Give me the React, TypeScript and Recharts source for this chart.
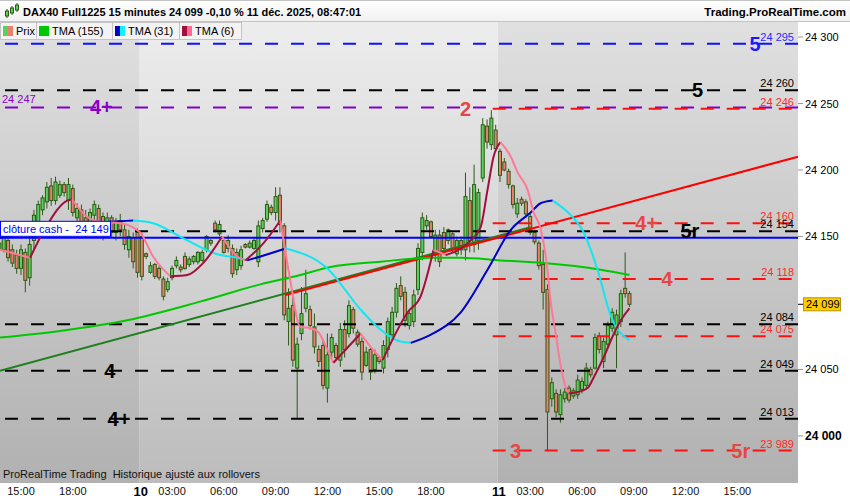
import React from "react";
import {
  ComposedChart,
  Bar,
  Line,
  XAxis,
  YAxis,
  ReferenceLine,
  ReferenceArea,
  ReferenceDot,
} from "recharts";

const FONT = "'Liberation Sans', Arial, sans-serif";

// bar index: 0 = 9 déc. 15:00, one step = 15 minutes (session 01:15 - 22:00)
// candles: [open, high, low, close]
const dec9Start = -5;
const dec9Bars = [
  [24140, 24147, 24136, 24145], [24140, 24153, 24138, 24150], [24147, 24151, 24131, 24134],
  [24140, 24144, 24127, 24130], [24136, 24140, 24122, 24126], [24126, 24144, 24121, 24140],
  [24138, 24141, 24108, 24117], [24119, 24150, 24113, 24144], [24147, 24170, 24140, 24166],
  [24161, 24177, 24153, 24174], [24170, 24181, 24166, 24179], [24176, 24191, 24171, 24187],
  [24188, 24194, 24173, 24177], [24177, 24195, 24174, 24191], [24181, 24192, 24179, 24189],
  [24189, 24191, 24180, 24183], [24177, 24194, 24170, 24189], [24186, 24189, 24165, 24168],
  [24164, 24175, 24159, 24171], [24170, 24174, 24155, 24158], [24164, 24170, 24149, 24153],
  [24158, 24171, 24155, 24168], [24166, 24177, 24161, 24174], [24171, 24174, 24156, 24161],
  [24165, 24168, 24147, 24151], [24155, 24168, 24150, 24164], [24164, 24166, 24149, 24153],
  [24153, 24164, 24147, 24161], [24162, 24167, 24150, 24155], [24155, 24159, 24140, 24144],
  [24140, 24155, 24134, 24150], [24149, 24153, 24126, 24131], [24153, 24156, 24119, 24123],
];

const dec10Start = 28;
const dec10Bars = [
  [24150, 24153, 24117, 24120], [24137, 24138, 24133, 24135], [24123, 24131, 24122, 24128],
  [24129, 24130, 24118, 24120], [24126, 24128, 24117, 24119], [24118, 24120, 24102, 24105],
  [24110, 24119, 24108, 24116], [24119, 24128, 24117, 24126], [24128, 24135, 24126, 24132],
  [24127, 24129, 24123, 24125], [24135, 24138, 24125, 24126], [24129, 24135, 24127, 24133],
  [24131, 24136, 24129, 24135], [24131, 24139, 24129, 24138], [24132, 24140, 24131, 24138],
  [24140, 24151, 24138, 24150], [24147, 24148, 24143, 24145], [24160, 24162, 24153, 24155],
  [24152, 24162, 24150, 24159], [24147, 24149, 24137, 24138], [24141, 24151, 24138, 24147],
  [24141, 24144, 24119, 24122], [24125, 24141, 24121, 24138], [24128, 24143, 24125, 24140],
  [24144, 24145, 24141, 24142], [24142, 24147, 24141, 24145], [24141, 24149, 24140, 24147],
  [24131, 24162, 24127, 24158], [24156, 24164, 24153, 24162], [24163, 24177, 24161, 24174],
  [24172, 24174, 24166, 24168], [24168, 24187, 24162, 24180], [24181, 24187, 24153, 24159],
  [24158, 24160, 24087, 24091], [24086, 24111, 24068, 24096], [24098, 24106, 24052, 24057],
  [24051, 24074, 24013, 24069], [24077, 24112, 24072, 24092], [24096, 24125, 24093, 24107],
  [24095, 24098, 24080, 24083], [24082, 24092, 24062, 24067], [24065, 24068, 24052, 24056],
  [24068, 24072, 24035, 24038], [24036, 24077, 24025, 24061], [24063, 24077, 24059, 24074],
  [24068, 24070, 24057, 24059], [24057, 24085, 24052, 24080], [24080, 24087, 24059, 24065],
  [24077, 24102, 24074, 24098], [24095, 24097, 24077, 24081], [24078, 24080, 24067, 24069],
  [24071, 24074, 24042, 24048], [24053, 24067, 24052, 24063], [24065, 24067, 24042, 24048],
  [24050, 24065, 24047, 24061], [24059, 24060, 24054, 24056], [24051, 24072, 24047, 24068],
  [24065, 24089, 24059, 24086], [24076, 24097, 24072, 24093], [24093, 24115, 24089, 24111],
  [24113, 24120, 24102, 24105], [24108, 24112, 24082, 24087], [24083, 24095, 24080, 24092],
  [24086, 24110, 24082, 24106], [24110, 24145, 24106, 24141], [24138, 24168, 24132, 24164],
  [24158, 24166, 24155, 24162], [24161, 24162, 24149, 24150], [24136, 24155, 24131, 24151],
  [24151, 24155, 24127, 24131], [24153, 24157, 24138, 24141], [24147, 24156, 24144, 24155],
  [24152, 24153, 24138, 24141], [24137, 24150, 24135, 24147], [24147, 24150, 24136, 24140],
  [24140, 24198, 24132, 24180], [24177, 24187, 24138, 24147], [24144, 24204, 24138, 24189],
  [24147, 24186, 24140, 24183], [24194, 24239, 24191, 24234], [24233, 24238, 24216, 24221],
  [24219, 24245, 24215, 24239], [24230, 24234, 24214, 24216],
];

const dec11Start = 111;
const dec11Bars = [
  [24214, 24216, 24191, 24196], [24206, 24209, 24199, 24200], [24199, 24201, 24186, 24189],
  [24188, 24189, 24171, 24174], [24167, 24179, 24164, 24175], [24178, 24180, 24173, 24175],
  [24176, 24178, 24164, 24167], [24165, 24167, 24151, 24153], [24153, 24155, 24144, 24146],
  [24145, 24147, 24125, 24128], [24129, 24140, 24095, 24108], [24110, 24114, 23989, 24018],
  [24028, 24044, 24022, 24040], [24032, 24035, 24014, 24018], [24016, 24035, 24010, 24031],
  [24028, 24036, 24025, 24033], [24036, 24038, 24025, 24027], [24030, 24036, 24028, 24034],
  [24031, 24046, 24028, 24042], [24035, 24044, 24032, 24041], [24038, 24055, 24035, 24051],
  [24050, 24052, 24044, 24046], [24051, 24077, 24050, 24074], [24075, 24078, 24062, 24065],
  [24056, 24074, 24051, 24071], [24069, 24086, 24067, 24083], [24081, 24096, 24078, 24093],
  [24076, 24095, 24051, 24091], [24086, 24110, 24082, 24107], [24111, 24138, 24104, 24107],
  [24107, 24109, 24097, 24099],
];

// moving averages: [bar index, value]
const tma155 = [
  [-4.9, 24074], [9.0, 24079], [24.6, 24087], [41.5, 24101], [55.5, 24114], [64.7, 24121],
  [71.7, 24127], [83.3, 24131], [94.9, 24134], [101.9, 24134], [111.1, 24132], [121.1, 24130],
  [134.3, 24125], [141, 24121],
];
const tma31 = [
  [-4.9, 24149], [6.7, 24156], [20.7, 24161], [26.0, 24162], [30.6, 24160], [38.5, 24147],
  [46.2, 24136], [50.1, 24134], [52.4, 24132], [55.5, 24135], [61.3, 24141], [71.0, 24126],
  [78.7, 24095], [82.6, 24082], [87.9, 24071], [90.3, 24070], [94.9, 24076], [101.9, 24093],
  [108.1, 24125], [113.5, 24155], [118.1, 24168], [120.4, 24175], [123.2, 24177], [127.4, 24166],
  [130.4, 24153], [133.6, 24125], [136.7, 24090], [141, 24072],
];
const tma6 = [
  [-4.9, 24140], [2.1, 24134], [5.6, 24156], [10.7, 24177], [11.8, 24178], [14.9, 24166],
  [18.3, 24161], [23.0, 24160], [27.6, 24153], [30.6, 24135], [34.6, 24120], [38.5, 24121],
  [42.2, 24130], [46.6, 24150], [50.1, 24135], [52.0, 24132], [56.2, 24145], [60.1, 24162],
  [62.4, 24117], [64.7, 24082], [67.1, 24081], [68.9, 24078], [71.0, 24065], [72.4, 24055],
  [78.7, 24077], [81.0, 24067], [83.8, 24057], [89.6, 24093], [92.6, 24105], [95.6, 24140],
  [98.4, 24136], [103.5, 24145], [106.5, 24157], [108.1, 24185], [109.5, 24210], [111.1, 24221],
  [113.5, 24210], [115.1, 24198], [117.4, 24185], [118.8, 24168], [120.4, 24156], [122.0, 24125],
  [122.7, 24102], [123.9, 24077], [125.1, 24052], [126.2, 24037], [126.9, 24032], [129.0, 24033],
  [131.3, 24036], [132.7, 24044], [135.0, 24059], [137.4, 24077], [139.0, 24087], [141, 24096],
];

// trend lines: [bar index, price] start and end
const greenTrend = [[-4.87, 24049], [118.1, 24157]];
const redTrend = [[61.25, 24106], [180.05, 24210]];

// horizontal levels
const blackLevels = [24260, 24154, 24084, 24049, 24013];
const blueLevel = 24295;
const purpleLevel = 24247;
const redLevels = [24246, 24160, 24118, 24075, 23989];
const redLevelStart = 109.3;
const cashClose = 24149;

// level tags
const tagText = ["5", "5", "4+", "2", "4+", "5r", "4", "4", "4+", "3", "5r"];
const tagPrice = [24295, 24260, 24247, 24246, 24160, 24154, 24118, 24049, 24013, 23989, 23989];
const tagBar = [170.1, 156.8, 18.6, 103.0, 145.0, 155.0, 149.7, 20.6, 22.7, 114.6, 166.8];
const tagColor = ["#1a1aff", "#000", "#8a00c8", "#e84545", "#e84545", "#000", "#e84545", "#000", "#000", "#e84545", "#e84545"];

// axes
const timeTicks = [0, 12, 35, 47, 59, 71, 83, 95, 118, 130, 142, 154, 166];
const timeLabels = ["15:00", "18:00", "03:00", "06:00", "09:00", "12:00", "15:00", "18:00", "03:00", "06:00", "09:00", "12:00", "15:00"];
const dayTicks = [dec10Start - 0.5, dec11Start - 0.5];
const dayLabels = ["10", "11"];
const priceTicks = [24000, 24050, 24150, 24200, 24250, 24300];

const X_MIN = -4.87;
const X_MAX = 180.05;
const Y_MIN = 23964.6;
const Y_MAX = 24311.3;

const UP = "#5cd05c";
const DOWN = "#ea806f";
const WICK = "#2d5a14";
const RED = "#ff1010";

const candles = [
  ...dec9Bars.map((b, k) => ({ i: dec9Start + k, b })),
  ...dec10Bars.map((b, k) => ({ i: dec10Start + k, b })),
  ...dec11Bars.map((b, k) => ({ i: dec11Start + k, b })),
].map(({ i, b }) => ({ i, o: b[0], h: b[1], l: b[2], c: b[3], range: [b[2], b[1]] }));

const lastClose = dec11Bars[dec11Bars.length - 1][3];

const fmt = (v: number) => `${Math.floor(v / 1000)} ${String(v % 1000).padStart(3, "0")}`;

// split a curve into rising / falling runs
function runs(pts: number[][], upColor: string, downColor: string) {
  const out: { color: string; data: { i: number; v: number }[] }[] = [];
  for (let k = 1; k < pts.length; k++) {
    const color = pts[k][1] >= pts[k - 1][1] ? upColor : downColor;
    const last = out[out.length - 1];
    if (last && last.color === color) last.data.push({ i: pts[k][0], v: pts[k][1] });
    else out.push({ color, data: [{ i: pts[k - 1][0], v: pts[k - 1][1] }, { i: pts[k][0], v: pts[k][1] }] });
  }
  return out;
}

const tma155Runs = runs(tma155, "#00c800", "#00c800");
const tma31Runs = runs(tma31, "#0000c8", "#12e6f2");
const tma6Runs = runs(tma6, "#a0103c", "#ff7898");

function Candle(props: any) {
  const { x, y, width, height, payload } = props;
  const { o, h, l, c } = payload;
  const cx = x + width / 2;
  const k = h === l ? 0 : height / (h - l);
  const yo = y + (h - o) * k;
  const yc = y + (h - c) * k;
  const top = Math.min(yo, yc);
  const bh = Math.max(Math.abs(yc - yo), 1);
  return (
    <g>
      <line x1={cx} x2={cx} y1={y} y2={y + height} stroke={WICK} strokeWidth={1} />
      <rect x={cx - 1.5} y={top} width={3} height={bh} fill={c >= o ? UP : DOWN} stroke={WICK} strokeWidth={1} />
    </g>
  );
}

function TimeTick(props: any) {
  const { x, y, payload } = props;
  const d = dayTicks.indexOf(payload.value);
  if (d >= 0) {
    return (
      <text x={x + 1} y={y + 13} textAnchor="middle" fontSize={13} fontWeight="bold" fontFamily={FONT} fill="#000">
        {dayLabels[d]}
      </text>
    );
  }
  const t = timeTicks.indexOf(payload.value);
  return (
    <text x={x} y={y + 12} textAnchor="middle" fontSize={11} fontFamily={FONT} fill="#111">
      {t >= 0 ? timeLabels[t] : ""}
    </text>
  );
}

function PriceTick(props: any) {
  const { x, y, payload } = props;
  const v = payload.value;
  const big = v % 1000 === 0;
  return (
    <g>
      <line x1={x} x2={x + 5} y1={y} y2={y} stroke="#999" />
      <text x={x + 7} y={y + 4} fontSize={big ? 12 : 11} fontWeight={big ? "bold" : "normal"} fontFamily={FONT} fill="#000">
        {fmt(v)}
      </text>
    </g>
  );
}

const legendItems = [
  { label: "Prix", a: UP, b: DOWN, w: 37 },
  { label: "TMA (155)", a: "#00c800", b: "#00c800", w: 76 },
  { label: "TMA (31)", a: "#0000c8", b: "#12f0ff", w: 67 },
  { label: "TMA (6)", a: "#a0103c", b: "#ff6890", w: 62 },
];

export default function App() {
  return (
    <div style={{ position: "absolute", left: 0, top: 0, width: 850, height: 500, background: "#fff", overflow: "hidden", fontFamily: FONT }}>
      <div
        style={{
          position: "absolute", left: 0, top: 0, width: 850, height: 22, boxSizing: "border-box",
          background: "linear-gradient(#ffffff, #f1f1f1)", borderTop: "1px solid #c4c4c4", borderBottom: "1px solid #c4c4c4",
        }}
      >
        <svg width={16} height={16} style={{ position: "absolute", left: 4, top: 2 }}>
          <line x1={3} x2={3} y1={6} y2={15} stroke={WICK} />
          <rect x={1.5} y={8} width={3} height={5} fill={UP} stroke={WICK} />
          <line x1={8} x2={8} y1={3} y2={12} stroke={WICK} />
          <rect x={6.5} y={5} width={3} height={5} fill={UP} stroke={WICK} />
          <line x1={13} x2={13} y1={0} y2={9} stroke={WICK} />
          <rect x={11.5} y={2} width={3} height={5} fill={UP} stroke={WICK} />
        </svg>
        <span style={{ position: "absolute", left: 23, top: 4, fontSize: 11, fontWeight: "bold", lineHeight: "14px", color: "#000" }}>
          DAX40 Full1225 15 minutes 24 099 -0,10 % 11 déc. 2025, 08:47:01
        </span>
        <span style={{ position: "absolute", right: 4, top: 4, fontSize: 11.5, fontWeight: "bold", lineHeight: "14px", color: "#000" }}>
          Trading.ProRealTime.com
        </span>
      </div>

      <div style={{ position: "absolute", left: 0, top: 22 }}>
        <ComposedChart width={850} height={478} data={candles} margin={{ top: 0, right: 0, bottom: 0, left: 0 }}>
          <defs>
            <linearGradient id="bgLight" x1="0" y1="0" x2="0" y2="1">
              <stop offset="0" stopColor="#ededed" />
              <stop offset="1" stopColor="#bcbcbc" />
            </linearGradient>
            <linearGradient id="bgDark" x1="0" y1="0" x2="0" y2="1">
              <stop offset="0" stopColor="#e0e0e0" />
              <stop offset="1" stopColor="#b1b1b1" />
            </linearGradient>
          </defs>
          <XAxis
            type="number" dataKey="i" domain={[X_MIN, X_MAX]} allowDataOverflow
            ticks={[...timeTicks, ...dayTicks]} interval={0} tick={TimeTick}
            tickLine={false} axisLine={false} tickSize={0} tickMargin={0} height={17}
          />
          <YAxis
            orientation="right" type="number" domain={[Y_MIN, Y_MAX]} allowDataOverflow
            ticks={priceTicks} interval={0} tick={PriceTick}
            tickLine={false} axisLine={false} tickSize={0} tickMargin={0} width={52}
          />

          <ReferenceArea x1={X_MIN} x2={dayTicks[0]} y1={Y_MIN} y2={Y_MAX} fill="url(#bgDark)" fillOpacity={1} stroke="none" ifOverflow="hidden" />
          <ReferenceArea x1={dayTicks[0]} x2={dayTicks[1]} y1={Y_MIN} y2={Y_MAX} fill="url(#bgLight)" fillOpacity={1} stroke="none" ifOverflow="hidden" />
          <ReferenceArea x1={dayTicks[1]} x2={X_MAX} y1={Y_MIN} y2={Y_MAX} fill="url(#bgDark)" fillOpacity={1} stroke="none" ifOverflow="hidden" />

          <Bar dataKey="range" barSize={4} shape={Candle} isAnimationActive={false} />

          <ReferenceLine y={blueLevel} stroke="#1010ff" strokeWidth={2} strokeDasharray="13 13" />
          <ReferenceLine y={purpleLevel} stroke="#8000c8" strokeWidth={2} strokeDasharray="13 13" />
          {blackLevels.map((p) => (
            <ReferenceLine key={`b${p}`} y={p} stroke="#000" strokeWidth={2} strokeDasharray="13 13" />
          ))}
          {redLevels.map((p) => (
            <ReferenceLine key={`r${p}`} segment={[{ x: redLevelStart, y: p }, { x: X_MAX, y: p }]} stroke={RED} strokeWidth={2} strokeDasharray="13 13" ifOverflow="visible" />
          ))}
          <ReferenceLine y={cashClose} stroke="#0000ff" strokeWidth={2} />

          <ReferenceLine segment={greenTrend.map(([x, y]) => ({ x, y }))} stroke="#1f7f1f" strokeWidth={2} ifOverflow="visible" />
          <ReferenceLine segment={redTrend.map(([x, y]) => ({ x, y }))} stroke="#ff0000" strokeWidth={2} ifOverflow="visible" />

          {tma155Runs.map((r, k) => (
            <Line key={`g${k}`} data={r.data} dataKey="v" type="monotone" stroke={r.color} strokeWidth={2} dot={false} activeDot={false} isAnimationActive={false} />
          ))}
          {tma31Runs.map((r, k) => (
            <Line key={`m${k}`} data={r.data} dataKey="v" type="monotone" stroke={r.color} strokeWidth={2} dot={false} activeDot={false} isAnimationActive={false} />
          ))}
          {tma6Runs.map((r, k) => (
            <Line key={`s${k}`} data={r.data} dataKey="v" type="monotone" stroke={r.color} strokeWidth={2} dot={false} activeDot={false} isAnimationActive={false} />
          ))}

          {[blueLevel, ...blackLevels, ...redLevels].map((p) => {
            const color = p === blueLevel ? "#2a2aff" : redLevels.includes(p) ? "#ff2a2a" : "#000";
            return (
              <ReferenceDot
                key={`v${p}`} x={X_MAX} y={p} r={1} ifOverflow="visible"
                shape={(s: any) => (
                  <text x={s.cx - 4} y={s.cy - 3} textAnchor="end" fontSize={11} fontFamily={FONT} fill={color}>
                    {fmt(p)}
                  </text>
                )}
              />
            );
          })}
          <ReferenceDot
            x={X_MIN} y={purpleLevel} r={1} ifOverflow="visible"
            shape={(s: any) => (
              <text x={s.cx + 2} y={s.cy - 4} fontSize={11} fontFamily={FONT} fill="#8a00c8">
                {fmt(purpleLevel)}
              </text>
            )}
          />
          <ReferenceDot
            x={X_MIN} y={cashClose} r={1} ifOverflow="visible"
            shape={(s: any) => (
              <g>
                <rect x={s.cx + 0.5} y={s.cy - 16.5} width={110} height={15} fill="#fff" stroke="#0000ff" strokeWidth={1} />
                <text x={s.cx + 3} y={s.cy - 5} fontSize={11} fontFamily={FONT} fill="#0000ff" style={{ whiteSpace: "pre" }}>
                  {`clôture cash -  ${fmt(cashClose)}`}
                </text>
              </g>
            )}
          />
          {tagText.map((t, k) => (
            <ReferenceDot
              key={`t${k}`} x={tagBar[k]} y={tagPrice[k]} r={1} ifOverflow="visible"
              shape={(s: any) => (
                <text x={s.cx} y={s.cy} textAnchor="middle" dominantBaseline="central" fontSize={20} fontWeight="bold" fontFamily={FONT} fill={tagColor[k]}>
                  {t}
                </text>
              )}
            />
          ))}
          <ReferenceDot
            x={X_MAX} y={lastClose} r={1} ifOverflow="visible"
            shape={(s: any) => (
              <g>
                <line x1={s.cx} x2={s.cx + 5} y1={s.cy} y2={s.cy} stroke="#000" />
                <rect x={s.cx + 5.5} y={s.cy - 6.5} width={37} height={13} fill="#ffcc00" stroke="#b89400" />
                <text x={s.cx + 8} y={s.cy + 4} fontSize={11} fontFamily={FONT} fill="#000">
                  {fmt(lastClose)}
                </text>
              </g>
            )}
          />
        </ComposedChart>
      </div>

      <div style={{ position: "absolute", left: 0, top: 22, display: "flex", height: 18 }}>
        {legendItems.map((it) => (
          <div
            key={it.label}
            style={{
              width: it.w, height: 18, boxSizing: "border-box", background: "#f3f3f3", border: "1px solid #c4c4c4",
              borderLeft: it.label === "Prix" ? "1px solid #c4c4c4" : "none", display: "flex", alignItems: "center",
              paddingLeft: 2, fontSize: 11, color: "#000",
            }}
          >
            <span style={{ display: "inline-block", width: 5, height: 10, background: it.a }} />
            <span style={{ display: "inline-block", width: 5, height: 10, background: it.b, marginRight: 3 }} />
            {it.label}
          </div>
        ))}
      </div>

      <div style={{ position: "absolute", left: 3, top: 468, fontSize: 11, color: "#111", whiteSpace: "pre", lineHeight: "13px" }}>
        {"ProRealTime Trading  Historique ajusté aux rollovers"}
      </div>
    </div>
  );
}
